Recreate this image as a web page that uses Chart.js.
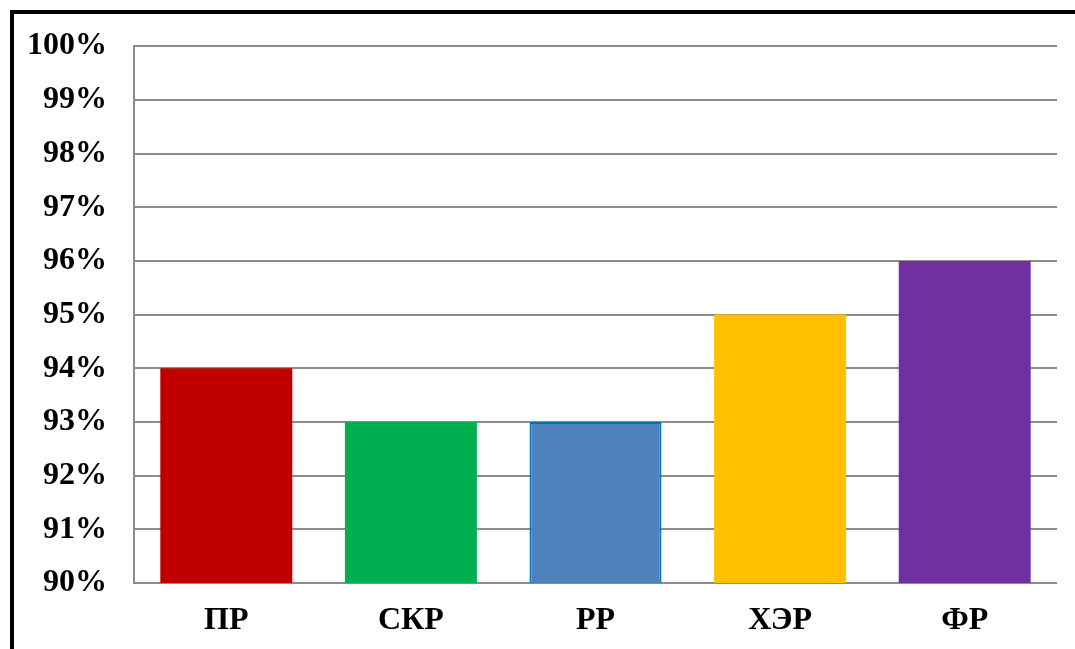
<!DOCTYPE html>
<html>
<head>
<meta charset="utf-8">
<script src="https://cdn.jsdelivr.net/npm/chart.js@4"></script>
<style>
  html, body { margin: 0; padding: 0; background: #fff; }
  body { width: 1075px; height: 649px; position: relative; overflow: hidden; }
  #frame { position: absolute; left: 10px; top: 10px; width: 1080px; height: 660px;
           border-top: 4px solid #000; border-left: 4px solid #000; }
  #wrap { position: absolute; left: 0; top: 0; width: 1075px; height: 649px; }
</style>
</head>
<body>
<div id="frame"></div>
<div id="wrap"><canvas id="chart" width="1075" height="649"></canvas></div>
<script>
// categories and values (percent)
var categories = ['ПР', 'СКР', 'РР', 'ХЭР', 'ФР'];
var values = [94, 93, 93, 95, 96];
var barColors = ['#C00000', '#00B050', '#4F81BD', '#FFC000', '#7030A0'];
var barBorders = ['#C00000', '#00B050', '#0070C0', '#FFC000', '#7030A0'];
var borderWidths = [0, 0, 2, 0, 0];

var yMin = 90, yMax = 100, yStep = 1;

var tickFont = { family: "'Liberation Serif', 'Times New Roman', serif", size: 32, weight: 'bold' };

var ctx = document.getElementById('chart');
var chart = new Chart(ctx, {
    type: 'bar',
    data: {
        labels: categories,
        datasets: [{
            data: values,
            backgroundColor: barColors,
            borderColor: barBorders,
            borderWidth: borderWidths,
            borderSkipped: false,
            barPercentage: 0.715,
            categoryPercentage: 1
        }]
    },
    options: {
        responsive: false,
        maintainAspectRatio: false,
        animation: false,
        layout: { padding: { left: 0, right: 18, top: 41, bottom: 0 } },
        plugins: { legend: { display: false }, tooltip: { enabled: false } },
        scales: {
            x: {
                grid: { display: false, drawTicks: false },
                border: { display: false },
                ticks: { font: tickFont, color: '#000', padding: 19 },
                afterFit: function(scale) { scale.height = 66; }
            },
            y: {
                min: yMin,
                max: yMax,
                grid: { color: '#8c8c8c', lineWidth: 2, drawTicks: false },
                border: { display: true, color: '#8c8c8c', width: 2 },
                ticks: {
                    stepSize: yStep,
                    font: tickFont,
                    color: '#000',
                    padding: 27,
                    callback: function(v) { return v + '%'; }
                },
                afterFit: function(scale) { scale.width = 134; }
            }
        }
    }
});
</script>
</body>
</html>
